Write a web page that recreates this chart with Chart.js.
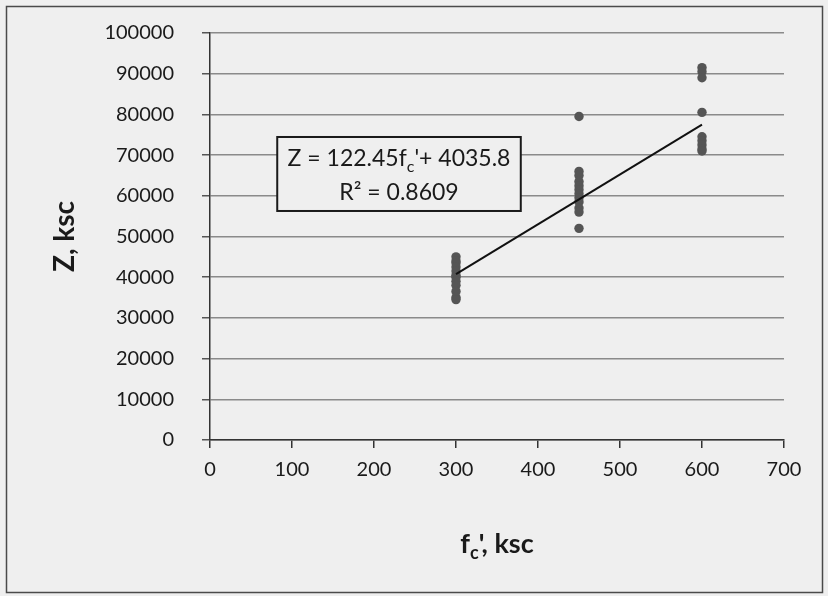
<!DOCTYPE html>
<html>
<head>
<meta charset="utf-8">
<script src="https://cdn.jsdelivr.net/npm/chart.js@4.4.1/dist/chart.umd.min.js"></script>
<style>
  html, body { margin: 0; padding: 0; background: #efefef; }
  #wrap { width: 828px; height: 596px; }
</style>
</head>
<body>
<div id="wrap"><canvas id="chart" width="828" height="596"></canvas></div>
<script>
// f'c groups and measured Z values (ksc)
const fc300 = [45000, 44000, 43500, 42500, 41500, 40500, 40000, 39000, 38000, 36500, 35000, 34500];
const fc450 = [79500, 66000, 65000, 63500, 62500, 61500, 60500, 59500, 58500, 57000, 56000, 52000];
const fc600 = [91500, 90500, 89000, 80500, 74500, 73500, 72500, 71500, 71000];

// linear trendline end points: Z = 122.45 fc' + 4035.8
const trendX = [300, 600];
const trendY = [40771, 77506];

const eqLine = "Z = 122.45f";
const eqSub = "c";
const eqTail = "'+ 4035.8";
const r2Text = "R² = 0.8609";

const xTicks = [0, 100, 200, 300, 400, 500, 600, 700];
const yMax = 100000;

const points = [];
fc300.forEach(v => points.push({ x: 300, y: v }));
fc450.forEach(v => points.push({ x: 450, y: v }));
fc600.forEach(v => points.push({ x: 600, y: v }));

const FONT = "Lato, 'Open Sans', sans-serif";
const ink = "#1a1a1a";

// background, outer frame, x title and equation box
const decor = {
  id: 'decor',
  beforeDraw(chart) {
    const c = chart.ctx;
    c.save();
    c.fillStyle = '#efefef';
    c.fillRect(0, 0, chart.width, chart.height);
    c.strokeStyle = '#4a4a4a';
    c.lineWidth = 1.5;
    c.strokeRect(6.5, 6.5, chart.width - 12, chart.height - 10);
    c.restore();
  },
  afterDatasetsDraw(chart) {
    const c = chart.ctx;
    const xs = chart.scales.x, ys = chart.scales.y;
    c.save();
    // equation box
    const bx1 = xs.getPixelForValue(82), bx2 = xs.getPixelForValue(379);
    const by1 = ys.getPixelForValue(74450), by2 = ys.getPixelForValue(56270);
    c.fillStyle = '#efefef';
    c.fillRect(bx1, by1, bx2 - bx1, by2 - by1);
    c.strokeStyle = ink;
    c.lineWidth = 2;
    c.strokeRect(bx1, by1, bx2 - bx1, by2 - by1);
    const cx = (bx1 + bx2) / 2;
    c.fillStyle = ink;
    c.textBaseline = 'alphabetic';
    const big = "23px " + FONT, small = "16px " + FONT;
    c.font = big;
    const w1 = c.measureText(eqLine).width, w3 = c.measureText(eqTail).width;
    c.font = small;
    const w2 = c.measureText(eqSub).width;
    let x = cx - (w1 + w2 + w3) / 2;
    const base1 = by1 + 29;
    c.font = big; c.textAlign = 'left';
    c.fillText(eqLine, x, base1); x += w1;
    c.font = small; c.fillText(eqSub, x, base1 + 6); x += w2;
    c.font = big; c.fillText(eqTail, x, base1);
    c.textAlign = 'center';
    c.fillText(r2Text, cx, by1 + 63);

    // x axis title f_c', ksc
    const tb = "bold 27px " + FONT, ts = "bold 18px " + FONT;
    const midX = (chart.chartArea.left + chart.chartArea.right) / 2;
    c.font = tb;
    const a = c.measureText("f").width, t = c.measureText("', ksc").width;
    c.font = ts;
    const s = c.measureText("c").width;
    let tx = midX - (a + s + t) / 2;
    const tyBase = 553;
    c.textAlign = 'left';
    c.font = tb; c.fillText("f", tx, tyBase); tx += a;
    c.font = ts; c.fillText("c", tx, tyBase + 6); tx += s;
    c.font = tb; c.fillText("', ksc", tx, tyBase);
    c.restore();
  }
};

new Chart(document.getElementById('chart'), {
  type: 'scatter',
  data: {
    datasets: [
      {
        label: 'Z',
        data: points,
        backgroundColor: '#555555',
        borderColor: '#555555',
        borderWidth: 0,
        pointRadius: 4.7,
        order: 2
      },
      {
        label: 'Linear',
        type: 'line',
        data: trendX.map((v, i) => ({ x: v, y: trendY[i] })),
        borderColor: '#111',
        borderWidth: 2,
        pointRadius: 0,
        fill: false,
        order: 1
      }
    ]
  },
  options: {
    responsive: false,
    animation: false,
    events: [],
    layout: { padding: { left: 0, top: 33, right: 44, bottom: 0 } },
    plugins: { legend: { display: false }, tooltip: { enabled: false } },
    scales: {
      x: {
        type: 'linear',
        min: 0, max: 700,
        afterBuildTicks: s => { s.ticks = xTicks.map(v => ({ value: v })); },
        afterFit: s => { s.height = 156; },
        grid: { drawOnChartArea: false, drawTicks: true, tickLength: 8, tickColor: '#333', lineWidth: 1.5 },
        border: { color: '#333', width: 1.5 },
        ticks: { color: ink, font: { family: FONT, size: 20 }, padding: 10, maxRotation: 0 },
        title: { display: false }
      },
      y: {
        min: 0, max: yMax,
        ticks: { stepSize: 10000, color: ink, font: { family: FONT, size: 20 }, padding: 28, callback: v => String(v) },
        afterFit: s => { s.width = 210; s.paddingTop = 12; s.paddingBottom = 12; },
        grid: { color: '#8a8a8a', lineWidth: 1.5, tickLength: 8, tickColor: '#555' },
        border: { color: '#333', width: 1.5 },
        title: {
          display: true, text: 'Z, ksc', color: ink,
          font: { family: FONT, size: 28, weight: 'bold' },
          padding: { top: 48, bottom: 0 }
        }
      }
    }
  },
  plugins: [decor]
});
</script>
</body>
</html>
